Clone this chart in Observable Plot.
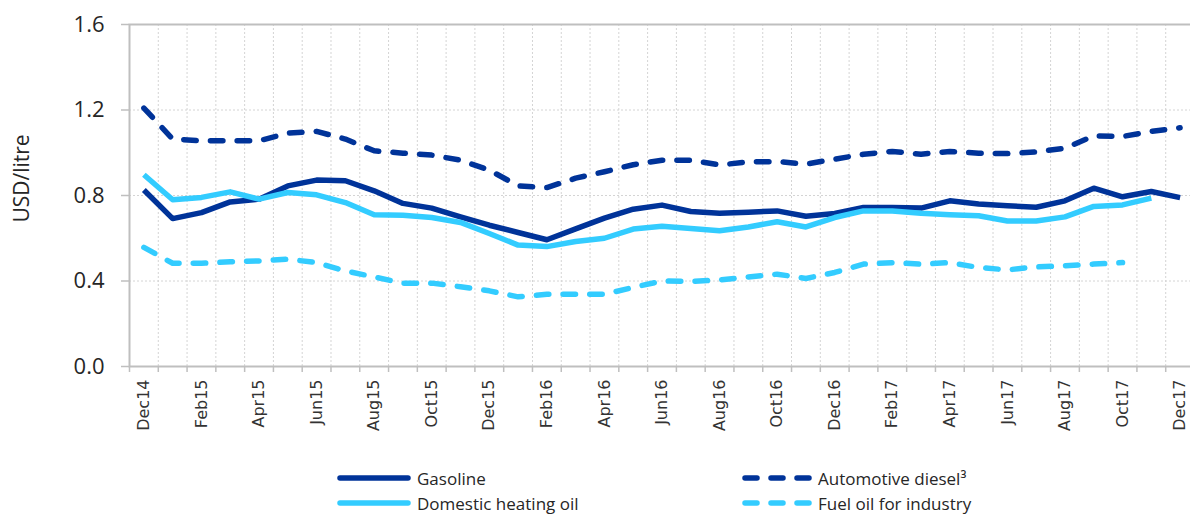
<!DOCTYPE html>
<html>
<head>
<meta charset="utf-8">
<script src="https://cdn.jsdelivr.net/npm/d3@7"></script>
<script src="https://cdn.jsdelivr.net/npm/@observablehq/plot@0.6"></script>
<style>
  html, body { margin: 0; padding: 0; background: #fff; }
  body { width: 1190px; height: 516px; overflow: hidden; }
  #chart svg { display: block; }
  #legend { position: relative; height: 66px; font-family: "Open Sans", sans-serif; font-size: 17px; color: #262626; }
  .item { position: absolute; display: flex; align-items: center; height: 20px; white-space: nowrap; }
  .item svg { display: block; margin-right: 6px; }
</style>
</head>
<body>
<div id="chart"></div>
<div id="legend"></div>
<script>
// ---- data ----
const months = ["Dec14","Jan15","Feb15","Mar15","Apr15","May15","Jun15","Jul15","Aug15","Sep15","Oct15","Nov15",
  "Dec15","Jan16","Feb16","Mar16","Apr16","May16","Jun16","Jul16","Aug16","Sep16","Oct16","Nov16",
  "Dec16","Jan17","Feb17","Mar17","Apr17","May17","Jun17","Jul17","Aug17","Sep17","Oct17","Nov17","Dec17"];

const gasoline = [0.826,0.692,0.720,0.770,0.783,0.845,0.872,0.869,0.822,0.763,0.741,0.700,0.661,0.627,0.593,0.644,
  0.694,0.736,0.755,0.725,0.717,0.722,0.728,0.703,0.716,0.744,0.744,0.741,0.775,0.760,0.752,0.745,0.775,0.834,0.794,0.819,0.790];

const diesel = [1.209,1.064,1.056,1.056,1.056,1.092,1.100,1.064,1.009,0.998,0.989,0.965,0.919,0.845,0.837,0.881,
  0.911,0.944,0.965,0.965,0.943,0.957,0.959,0.947,0.970,0.993,1.006,0.993,1.006,0.998,0.996,1.004,1.021,1.079,1.076,1.100,1.117];

const heating = [0.897,0.780,0.791,0.817,0.783,0.814,0.803,0.767,0.710,0.708,0.697,0.674,0.622,0.568,0.561,0.585,
  0.600,0.643,0.656,0.646,0.635,0.653,0.677,0.653,0.697,0.728,0.728,0.717,0.710,0.705,0.681,0.681,0.700,0.749,0.756,0.788];

const fuelOil = [0.557,0.483,0.483,0.490,0.494,0.502,0.486,0.447,0.419,0.390,0.390,0.373,0.354,0.326,0.338,0.338,
  0.338,0.370,0.400,0.398,0.405,0.419,0.432,0.412,0.440,0.479,0.486,0.479,0.486,0.463,0.452,0.466,0.471,0.479,0.486];

const seriesNames = ["Gasoline", "Automotive diesel³", "Domestic heating oil", "Fuel oil for industry"];
const yTicks = [0, 0.4, 0.8, 1.2, 1.6];
const yLabel = "USD/litre";

// ---- styles ----
const DARK = "#003399", LIGHT = "#33CCFF";
const styles = {
  "Gasoline": {color: DARK, dash: null},
  "Automotive diesel³": {color: DARK, dash: "12.5,14.2"},
  "Domestic heating oil": {color: LIGHT, dash: null},
  "Fuel oil for industry": {color: LIGHT, dash: "12.5,14.2"}
};
const valuesBy = {
  "Gasoline": gasoline,
  "Automotive diesel³": diesel,
  "Domestic heating oil": heating,
  "Fuel oil for industry": fuelOil
};

const toRows = (name) => valuesBy[name].map((v, i) => ({series: name, i, v}));

const idx = months.map((m, i) => i);
const bounds = d3.range(months.length + 1).map(i => i - 0.5);
const innerBounds = bounds.slice(1, -1);
const labelTicks = idx.filter(i => i % 2 === 0);

// drawing order: Excel series order (later on top)
const order = ["Gasoline", "Automotive diesel³", "Domestic heating oil", "Fuel oil for industry"];
const lineMarks = order.map(name => Plot.line(toRows(name), {
  x: "i", y: "v",
  stroke: styles[name].color,
  strokeWidth: 5.5,
  strokeDasharray: styles[name].dash,
  strokeLinecap: styles[name].dash ? "round" : "butt",
  strokeLinejoin: "round"
}));

const chart = Plot.plot({
  width: 1190,
  height: 450,
  marginLeft: 129,
  marginRight: -4,
  marginTop: 24,
  marginBottom: 84,
  style: {background: "transparent"},
  x: {type: "linear", domain: [-0.5, months.length - 0.5]},
  y: {domain: [0, 1.6]},
  marks: [
    Plot.ruleY(yTicks.slice(1, -1), {stroke: "#d4d4d4", strokeWidth: 1, strokeDasharray: "2,2"}),
    Plot.ruleX(innerBounds, {stroke: "#d4d4d4", strokeWidth: 1, strokeDasharray: "2,2"}),
    Plot.axisX({ticks: bounds, tickSize: 6, tickFormat: () => "", stroke: "#bfbfbf", strokeWidth: 1.5, label: null}),
    Plot.axisX({
      ticks: labelTicks, tickSize: 0, tickPadding: 13, tickRotate: -90,
      tickFormat: i => months[i], fontSize: 16, fontFamily: "DejaVu Sans", fill: "#333", label: null
    }),
    Plot.axisY({
      ticks: yTicks, tickSize: 8, tickPadding: 17, tickFormat: d3.format(".1f"),
      fontSize: 22, fontFamily: "Open Sans", fill: "#262626", stroke: "#bfbfbf", strokeWidth: 1.5, label: null
    }),
    Plot.text([yLabel], {
      frameAnchor: "left", rotate: -90, dx: -107, dy: -17, textAnchor: "middle",
      fontSize: 21, fontFamily: "Open Sans", fill: "#262626", text: d => d
    }),
    Plot.frame({stroke: "#bfbfbf", strokeWidth: 2}),
    ...lineMarks
  ]
});
document.getElementById("chart").appendChild(chart);

// ---- legend ----
const legendPos = {
  "Gasoline": {left: 337, top: 18, w: 74},
  "Domestic heating oil": {left: 337, top: 43, w: 74},
  "Automotive diesel³": {left: 742, top: 18, w: 70},
  "Fuel oil for industry": {left: 742, top: 43, w: 70}
};
const legend = document.getElementById("legend");
for (const name of seriesNames) {
  const p = legendPos[name], s = styles[name];
  const item = document.createElement("div");
  item.className = "item";
  item.style.left = p.left + "px";
  item.style.top = p.top + "px";
  const dash = s.dash ? `stroke-dasharray="12,14" stroke-linecap="round"` : `stroke-linecap="round"`;
  const x1 = 3, x2 = p.w - 3;
  item.innerHTML = `<svg width="${p.w}" height="10"><line x1="${x1}" x2="${x2}" y1="5" y2="5" stroke="${s.color}" stroke-width="5.5" ${dash}/></svg><span>${name}</span>`;
  legend.appendChild(item);
}
</script>
</body>
</html>
